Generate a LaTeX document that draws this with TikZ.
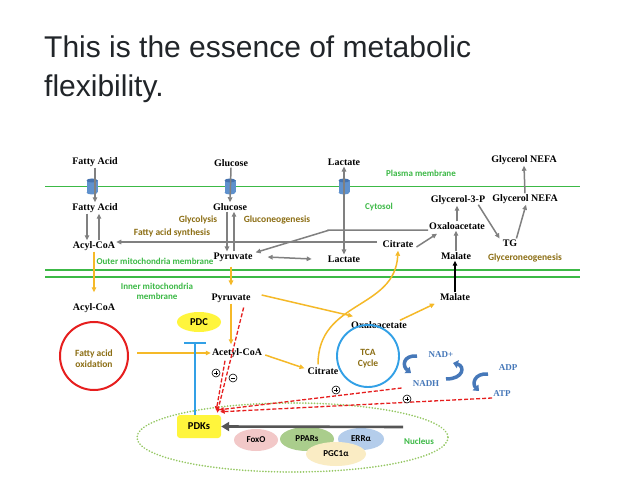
\documentclass[tikz,border=0pt]{standalone}
\usepackage{fontspec}
\setmainfont{Liberation Serif}
\newfontfamily\titlefont{Liberation Sans}
\newfontfamily\lblfont{Carlito}
\usetikzlibrary{arrows.meta,shapes.geometric}
\definecolor{memgreen}{RGB}{60,185,70}
\definecolor{olivec}{RGB}{140,110,20}
\definecolor{gryc}{RGB}{128,128,128}
\definecolor{ylw}{RGB}{245,185,40}
\definecolor{redd}{RGB}{230,30,30}
\definecolor{blu}{RGB}{50,160,230}
\definecolor{nadblue}{RGB}{70,120,185}
\definecolor{chanc}{RGB}{95,145,205}
\definecolor{chantop}{RGB}{70,115,175}
\definecolor{titlec}{RGB}{33,37,41}
\definecolor{pdkyel}{RGB}{255,245,60}
\definecolor{foxoc}{RGB}{242,200,200}
\definecolor{pparc}{RGB}{170,205,140}
\definecolor{errc}{RGB}{180,205,235}
\definecolor{pgcc}{RGB}{250,236,196}
\definecolor{nucdot}{RGB}{150,200,100}
\definecolor{darkarr}{RGB}{85,85,85}
\tikzset{
  met/.style={font=\bfseries\fontsize{10}{12}\selectfont, inner sep=1pt},
  nadlbl/.style={font=\bfseries\fontsize{9}{11}\selectfont, text=nadblue, inner sep=1pt},
  grn/.style={font=\lblfont\bfseries\fontsize{9}{10}\selectfont, text=memgreen, align=center, inner sep=0pt},
  olv/.style={font=\lblfont\bfseries\fontsize{9.5}{11.5}\selectfont, text=olivec, align=center, inner sep=0pt},
  prot/.style={ellipse, inner sep=0pt, font=\lblfont\bfseries\fontsize{9}{10}\selectfont},
  membrane/.style={draw=memgreen, line width=1.8pt},
  garr/.style={draw=gryc, line width=1.5pt, -{Triangle[length=5pt,width=4.5pt]}},
  gdbl/.style={draw=gryc, line width=1.5pt, {Triangle[length=5pt,width=4.5pt]}-{Triangle[length=5pt,width=4.5pt]}},
  yarr/.style={draw=ylw, line width=1.5pt, -{Triangle[length=5pt,width=4.5pt]}},
  rdash/.style={draw=redd, line width=1.3pt, dash pattern=on 4pt off 2pt, -{Triangle[length=4.5pt,width=4pt]}},
  nadarr/.style={draw=nadblue, line width=3.5pt, -{Triangle[length=5pt,width=8pt]}},
  sign/.style={circle, draw=black, line width=0.6pt, minimum size=8pt, inner sep=0pt, fill=white},
  plussign/.style={sign, path picture={
     \draw[line width=0.7pt] ([xshift=1.6pt]path picture bounding box.west) -- ([xshift=-1.6pt]path picture bounding box.east);
     \draw[line width=0.7pt] ([yshift=-1.6pt]path picture bounding box.north) -- ([yshift=1.6pt]path picture bounding box.south);}},
  minussign/.style={sign, path picture={
     \draw[line width=0.7pt] ([xshift=1.6pt]path picture bounding box.west) -- ([xshift=-1.6pt]path picture bounding box.east);}},
  channel/.pic={
     \fill[chanc] (-5.5,-6) rectangle (5.5,6);
     \fill[chanc] (0,6) ellipse (5.5 and 2);
     \fill[chantop] (0,-6) ellipse (5.5 and 2);
  }
}
\begin{document}
\begin{tikzpicture}[x=1pt,y=-1pt]
\useasboundingbox (0,0) rectangle (627,500);
\fill[white] (0,0) rectangle (627,500);

% title
\node[anchor=base west, inner sep=0pt, font=\titlefont\fontsize{30}{36}\selectfont, text=titlec] (t1) at (44,58) {This is the essence of metabolic};
\node[anchor=base west, inner sep=0pt, font=\titlefont\fontsize{30}{36}\selectfont, text=titlec] (t2) at (44,97) {flexibility.};

% membranes
\draw[membrane] (45,186.5) -- (580,186.5);
\draw[membrane] (45,270) -- (580,270);
\draw[membrane] (45,277) -- (580,277);

% nucleus
\draw[nucdot, line width=1.8pt, dash pattern=on 0.1pt off 2.8pt, line cap=round] (292.5,437.5) ellipse (155.5 and 34.5);

% channels
\pic at (92,186.5) {channel};
\pic at (230,186.5) {channel};
\pic at (344,186.5) {channel};

% labels top
\node[met] (fa1) at (95,162) {Fatty Acid};
\node[met] (glc1) at (231,163) {Glucose};
\node[met] (lac1) at (344,162) {Lactate};
\node[met] (gn1) at (524,160) {Glycerol NEFA};
\node[grn] (pm) at (421,173) {Plasma membrane};

\node[met] (fa2) at (95,208) {Fatty Acid};
\node[met] (glc2) at (230,207) {Glucose};
\node[grn] (cyto) at (379,207) {Cytosol};
\node[met] (g3p) at (458,200) {Glycerol-3-P};
\node[met] (gn2) at (525,199) {Glycerol NEFA};

\node[olv] (glyco) at (198,220) {Glycolysis};
\node[olv] (gneo) at (277,220) {Gluconeogenesis};
\node[olv] (fas) at (172,233) {Fatty acid synthesis};

\node[met] (acyl1) at (94,246) {Acyl-CoA};
\node[met] (pyr1) at (233,257) {Pyruvate};
\node[met] (lac2) at (344,259) {Lactate};
\node[met] (cit1) at (398,244) {Citrate};
\node[met] (oaa1) at (457,226) {Oxaloacetate};
\node[met] (mal1) at (456,256) {Malate};
\node[met] (tg) at (510,243) {TG};
\node[olv] (glyne) at (525,258) {Glyceroneogenesis};

\node[grn] (omm) at (155,261) {Outer mitochondria membrane};
\node[grn] (imm) at (157,291.5) {Inner mitochondria\\membrane};

% mitochondria
\node[met] (acyl2) at (94,308) {Acyl-CoA};
\node[met] (pyr2) at (231,298) {Pyruvate};
\node[met] (mal2) at (455,297) {Malate};
\node[met] (oaa2) at (379,325) {Oxaloacetate};
\node[ellipse, fill=pdkyel, minimum width=44pt, minimum height=20pt, inner sep=0pt, font=\lblfont\bfseries\fontsize{10.5}{12}\selectfont] (pdc) at (199,322) {PDC};
\node[circle, draw=redd, line width=2pt, minimum size=68pt, inner sep=0pt] (fao) at (94,356) {};
\node[olv] (faotxt) at (94,358.5) {Fatty acid\\oxidation};
\node[met] (acoa) at (237,353) {Acetyl-CoA};
\node[met] (cit2) at (323,371) {Citrate};
\node[circle, draw=blu, line width=1.9pt, minimum size=62pt, inner sep=0pt] (tca) at (368,356) {};
\node[olv] (tcatxt) at (368,358.5) {TCA\\Cycle};
\node[nadlbl] (nad) at (441,355) {NAD+};
\node[nadlbl] (nadh) at (426,384) {NADH};
\node[nadlbl] (adp) at (508,368) {ADP};
\node[nadlbl] (atp) at (502,394) {ATP};

% nucleus contents
\node[rectangle, rounded corners=3pt, fill=pdkyel, minimum width=44pt, minimum height=23pt, inner sep=0pt, font=\lblfont\bfseries\fontsize{10.5}{12}\selectfont] (pdks) at (199,426.5) {PDKs};
\node[prot, fill=foxoc, minimum width=44pt, minimum height=22pt] (foxo) at (256,440) {FoxO};
\node[prot, fill=pparc, minimum width=54pt, minimum height=24pt] (ppar) at (307,439) {PPARs};
\node[prot, fill=errc, minimum width=46pt, minimum height=22pt] (err) at (361,439) {ERRα};
\node[prot, fill=pgcc, minimum width=60pt, minimum height=24pt] (pgc) at (336,454) {PGC1α};
\node[grn] (nuc) at (419,441) {Nucleus};
\coordinate (nucsrc) at (403,427);
\draw[draw=darkarr, line width=2.6pt, -{Triangle[length=8pt,width=9pt]}] (nucsrc) -- (pdks.east);

% gray arrows
\draw[garr] (fa1.south) -- (fa2.north);
\draw[garr] (glc1.south) -- (glc2.north);
\draw[gdbl] (lac2.north) -- (lac1.south);
\draw[garr] (gn2.north) -- (gn1.south);
\draw[garr] ([xshift=-8pt]fa2.south) -- ([xshift=-8pt]fa2.south |- acyl1.north);
\draw[garr] ([xshift=4pt]fa2.south |- acyl1.north) -- ([xshift=4pt]fa2.south);
\draw[garr] ([xshift=-3pt]glc2.south) -- ([xshift=-3pt]glc2.south |- pyr1.north);
\draw[garr] ([xshift=4pt]glc2.south |- pyr1.north) -- ([xshift=4pt]glc2.south);
\coordinate (fasstart) at (377,242);
\draw[garr] (fasstart) -- (fasstart -| acyl1.east);
\coordinate (oaabend) at (328,230.5);
\draw[garr] ([yshift=-4pt]oaa1.west) -- ([yshift=-4pt]oaa1.west -| oaabend) -- (oaabend) -- ([xshift=2pt,yshift=-1pt]pyr1.north east);
\draw[gdbl] ([xshift=14pt]pyr1.east) -- ([xshift=-15pt]lac2.west);
\draw[garr] ([xshift=2pt,yshift=-3pt]cit1.east) -- ([xshift=9pt,yshift=-3pt]oaa1.south west);
\draw[garr] (oaa1.north) -- (oaa1.north |- g3p.south);
\draw[garr] (mal1.north) -- (mal1.north |- oaa1.south);
\draw[garr] ([xshift=-8pt,yshift=1pt]g3p.south east) -- ([xshift=-2pt]tg.north west);
\draw[garr] ([xshift=-2pt]tg.north east) -- ([xshift=1pt]gn2.south);
\draw[line width=1.5pt, -{Triangle[length=5pt,width=4.5pt]}] (mal2.north) -- (mal2.north |- mal1.south);

% yellow arrows
\draw[yarr] (acyl1.south) -- ([yshift=10pt]acyl2.north);
\draw[yarr] ([yshift=-4pt]pyr1.south -| pyr2.north) -- ([yshift=7pt]pyr2.north);
\draw[yarr] (pyr2.south) -- ([yshift=3pt]pyr2.south |- acoa.north);
\draw[yarr] ([xshift=10pt,yshift=3pt]pyr2.east) -- ([xshift=-26pt,yshift=4pt]oaa2.north);
\draw[yarr] ([xshift=-8pt]oaa2.north east) -- ([xshift=-4pt,yshift=-2pt]mal2.south west);
\draw[yarr] ([xshift=8pt]fao.east |- acoa.west) -- (acoa.west);
\draw[yarr] ([xshift=2pt,yshift=-2pt]acoa.east) -- ([xshift=-2pt,yshift=-2pt]cit2.north west);
\draw[yarr] ([xshift=-5pt,yshift=2pt]cit2.north) .. controls (318,300) and (395,310) .. ([yshift=-2pt]cit1.south);

% PDC inhibition
\draw[draw=blu, line width=1.6pt, -{Bar[width=22pt,line width=1.6pt]}] ([xshift=-4pt]pdks.north) -- ([xshift=-4pt,yshift=-10pt]pdc.south);

% red dashed
\draw[rdash] ([xshift=-8pt,yshift=-4pt]pyr2.south east) -- ([xshift=-4pt,yshift=2pt]pdks.north east);
\draw[rdash] ([xshift=-12pt,yshift=-2pt]acoa.south) -- ([xshift=-5pt,yshift=4pt]pdks.north east);
\draw[rdash] ([xshift=-10pt,yshift=-4pt]nadh.west) -- ([xshift=-2pt,yshift=5pt]pdks.north east);
\draw[rdash] ([yshift=-4pt]atp.west) -- ([xshift=-1pt,yshift=3pt]pdks.north east);
\node[plussign] (s1) at (216,373) {};
\node[minussign] (s2) at (233,378) {};
\node[plussign] (s3) at (336,390) {};
\node[plussign] (s4) at (407,399) {};

% NAD / ATP curved arrows
\draw[nadarr] (417,356) .. controls (403,355) and (402,366) .. (411,373);
\draw[nadarr] (446,379) .. controls (464,379) and (465,366) .. (453,363);
\draw[nadarr] (488,374) .. controls (474,373) and (472,384) .. (479,391);
\end{tikzpicture}
\end{document}
